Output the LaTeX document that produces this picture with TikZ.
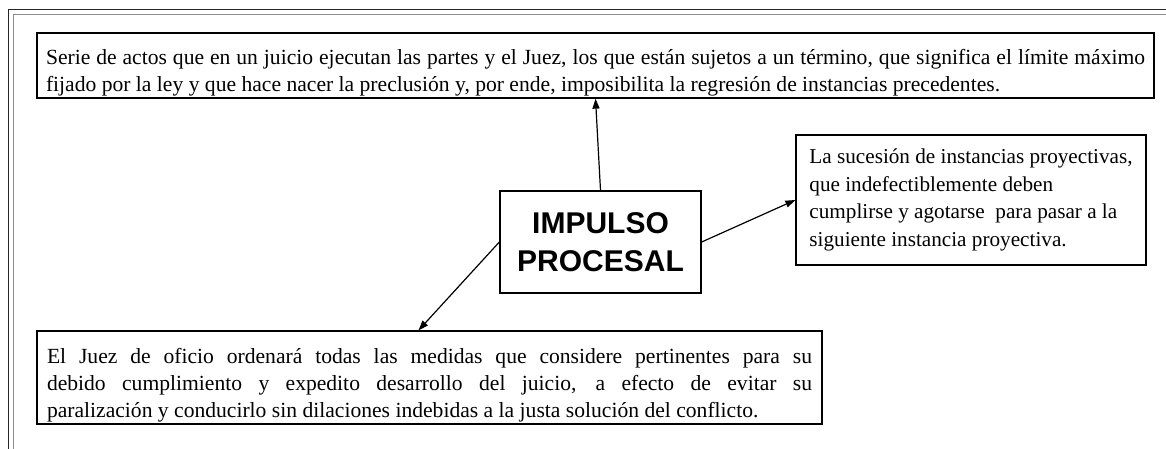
\documentclass[tikz,border=0pt]{standalone}
\usepackage{fontspec}
\setmainfont{Liberation Serif}
\setsansfont{Liberation Sans}
\usetikzlibrary{arrows.meta}
\hyphenpenalty=10000

\begin{document}
\begin{tikzpicture}[x=0.5pt,y=-0.5pt,
		textbox/.style={draw, line width=0.65pt, inner xsep=5pt, inner ysep=0pt},
		titlebox/.style={draw, line width=0.65pt, minimum width=100.5pt, minimum height=51pt,
			align=center, font=\fontsize{15}{19}\selectfont\sffamily\bfseries},
		arr/.style={-{Triangle[length=5pt,width=3.5pt]}, line width=0.6pt}
		]

	\useasboundingbox (0,0) rectangle (1166,449);

	% --- marco de la pagina ---
	\draw[line width=0.5pt, black!85] (8,449) -- (8,10) -- (1166,10);
	\draw[line width=0.5pt, black!45] (13,449) -- (13,15) -- (1166,15);

	% --- cajas ---
	\node[titlebox] (imp) at (600.5,242) {IMPULSO\\PROCESAL};

	\node[textbox, inner xsep=4.5pt, text width=549.5pt, minimum height=32.5pt, align=justify,
		font=\fontsize{10.8}{13.5}\selectfont] (serie) at (595.5,65.5)
		{\rule{0pt}{15pt}Serie de actos que en un juicio ejecutan las partes y el Juez, los que están sujetos a un término, que significa el límite máximo\linebreak
		fijado por la ley y que hace nacer la preclusión y, por ende, imposibilita la regresión de instancias precedentes.};

	\node[textbox, minimum width=175pt, minimum height=65pt, align=left,
		font=\fontsize{10.6}{13.7}\selectfont] (suces) at (971,200)
		{La sucesión de instancias proyectivas,\\
		que indefectiblemente deben\\
		cumplirse y agotarse\ \ para pasar a la\\
		siguiente instancia proyectiva.};

	\node[textbox, text width=382.5pt, minimum height=46.5pt, align=justify,
		font=\fontsize{10.8}{13.5}\selectfont] (juez) at (429.5,377.5)
		{\rule{0pt}{15pt}El Juez de oficio ordenará todas las medidas que considere pertinentes para su\linebreak
		debido cumplimiento y expedito desarrollo del juicio, a efecto de evitar su\linebreak
		paralización y conducirlo sin dilaciones indebidas a la justa solución del conflicto.};

	% --- flechas ---
	\draw[arr] (imp.north) -- (serie.south);
	\draw[arr] (imp.east) -- (suces.west);
	\draw[arr] (imp.west) -- ([xshift=-5.5pt]juez.north);

\end{tikzpicture}
\end{document}
